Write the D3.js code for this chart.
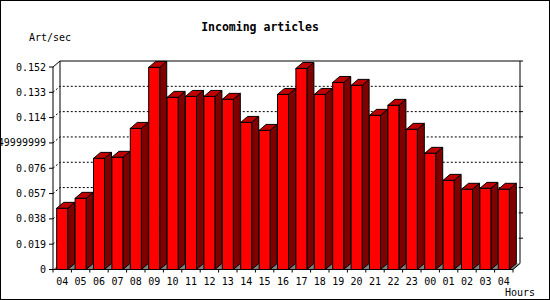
<!DOCTYPE html>
<html>
<head>
<meta charset="utf-8">
<script src="https://cdn.jsdelivr.net/npm/d3@7"></script>
<style>
  body { margin: 0; background: #fff; }
  text { font-family: "DejaVu Sans Mono", monospace; fill: #000; }
</style>
</head>
<body>
<div id="chart"></div>
<script>
const hours = ["04", "05", "06", "07", "08", "09", "10", "11", "12", "13", "14", "15", "16",
    "17", "18", "19", "20", "21", "22", "23", "00", "01", "02", "03", "04"]
const artPerSec = [0.0459, 0.0534, 0.0834, 0.0842, 0.1059, 0.1517, 0.1292, 0.1299, 0.1299, 0.1277,
    0.1104, 0.1044, 0.1314, 0.1509, 0.1314, 0.1404, 0.1382, 0.1157, 0.1232, 0.1052,
    0.0872, 0.0669, 0.0602, 0.0609, 0.0602]
const tickValues = [0, 0.019, 0.038, 0.057, 0.076, 0.095, 0.114, 0.133, 0.152]
const tickLabels = ["0", "0.019", "0.038", "0.057", "0.076", "0.0949999999", "0.114", "0.133", "0.152"]

const width = 550, height = 300
const plotLeft = 53, plotRight = 513, plotTop = 67, plotBottom = 269.5
const dx = 7, dy = 6

const svg = d3.select("#chart").append("svg").attr("width", width).attr("height", height)

// keys so the two "04" stay apart
const keys = hours.map((h, i) => i)
const x = d3.scaleBand().domain(keys).range([plotLeft, plotRight]).padding(0)
const y = d3.scaleLinear().domain([0, 0.152]).range([plotBottom, plotTop])
const bw = x.bandwidth()

// floor
svg.append("path")
    .attr("d", `M${plotLeft},${plotBottom}L${plotRight},${plotBottom}L${plotRight + dx},${plotBottom - dy}L${plotLeft + dx},${plotBottom - dy}Z`)
    .attr("fill", "#808080")

// dotted grid on the back wall
svg.selectAll(".grid")
    .data(tickValues.slice(1, -1))
    .join("path")
    .attr("class", "grid")
    .attr("d", d => `M${plotLeft},${y(d)}L${plotLeft + dx},${y(d) - dy}L${plotRight + dx},${y(d) - dy}`)
    .attr("fill", "none")
    .attr("stroke", "#000")
    .attr("stroke-dasharray", "2,2")

// back frame
const yMax = y(0.152)
svg.append("path")
    .attr("d", `M${plotLeft},${yMax}L${plotLeft + dx},${yMax - dy}L${plotRight + dx},${yMax - dy}L${plotRight + dx},${plotBottom - dy}L${plotRight},${plotBottom}`)
    .attr("fill", "none").attr("stroke", "#000")
svg.append("line")
    .attr("x1", plotLeft + dx).attr("x2", plotLeft + dx)
    .attr("y1", yMax - dy).attr("y2", plotBottom - dy)
    .attr("stroke", "#000")

// little ticks on the right edge
svg.selectAll(".rtick")
    .data(tickValues.slice(1))
    .join("line")
    .attr("class", "rtick")
    .attr("x1", plotRight + dx).attr("x2", plotRight + dx + 3)
    .attr("y1", d => y(d) - dy).attr("y2", d => y(d) - dy)
    .attr("stroke", "#000")

// bars
const bars = svg.selectAll(".bar")
    .data(artPerSec)
    .join("g")
    .attr("class", "bar")

const fx = (i) => x(i) + bw * 0.2
const fw = bw * 0.6

bars.append("path") // side
    .attr("d", (d, i) => {
        const xr = fx(i) + fw
        return `M${xr},${y(d)}L${xr + dx},${y(d) - dy}L${xr + dx},${plotBottom - dy}L${xr},${plotBottom}Z`
    })
    .attr("fill", "#800000").attr("stroke", "#000")
bars.append("path") // top
    .attr("d", (d, i) => {
        const xl = fx(i)
        return `M${xl},${y(d)}L${xl + dx},${y(d) - dy}L${xl + fw + dx},${y(d) - dy}L${xl + fw},${y(d)}Z`
    })
    .attr("fill", "#c00000").attr("stroke", "#000")
bars.append("rect") // front
    .attr("x", (d, i) => fx(i))
    .attr("y", d => y(d))
    .attr("width", fw)
    .attr("height", d => plotBottom - y(d))
    .attr("fill", "#ff0000").attr("stroke", "#000")

// y axis
svg.append("line")
    .attr("x1", plotLeft).attr("x2", plotLeft).attr("y1", plotTop).attr("y2", plotBottom)
    .attr("stroke", "#000")
svg.selectAll(".ytick")
    .data(tickValues)
    .join("line")
    .attr("class", "ytick")
    .attr("x1", plotLeft - 4).attr("x2", plotLeft)
    .attr("y1", d => y(d)).attr("y2", d => y(d))
    .attr("stroke", "#000")
svg.selectAll(".ylab")
    .data(tickValues)
    .join("text")
    .attr("class", "ylab")
    .attr("x", 46)
    .attr("y", d => y(d) + 3.5)
    .attr("text-anchor", "end")
    .attr("font-size", 10)
    .text((d, i) => tickLabels[i])

// x axis
svg.append("line")
    .attr("x1", plotLeft).attr("x2", plotRight).attr("y1", plotBottom).attr("y2", plotBottom)
    .attr("stroke", "#000")
svg.selectAll(".xtick")
    .data(keys.concat([keys.length]))
    .join("line")
    .attr("class", "xtick")
    .attr("x1", i => plotLeft + i * bw).attr("x2", i => plotLeft + i * bw)
    .attr("y1", plotBottom).attr("y2", plotBottom + 3)
    .attr("stroke", "#000")
svg.selectAll(".xlab")
    .data(keys)
    .join("text")
    .attr("class", "xlab")
    .attr("x", i => x(i) + bw / 2)
    .attr("y", 285)
    .attr("text-anchor", "middle")
    .attr("font-size", 10)
    .text(i => hours[i])

// titles
svg.append("text")
    .attr("x", 260).attr("y", 30.5)
    .attr("text-anchor", "middle")
    .attr("font-size", 11.5).attr("font-weight", "bold")
    .text("Incoming articles")
svg.append("text")
    .attr("x", 29).attr("y", 41)
    .attr("font-size", 10)
    .text("Art/sec")
svg.append("text")
    .attr("x", 505).attr("y", 295.5)
    .attr("font-size", 10)
    .text("Hours")

// outer border
svg.append("rect")
    .attr("x", 0.5).attr("y", 0.5).attr("width", width - 1).attr("height", height - 1)
    .attr("fill", "none").attr("stroke", "#000")
</script>
</body>
</html>
